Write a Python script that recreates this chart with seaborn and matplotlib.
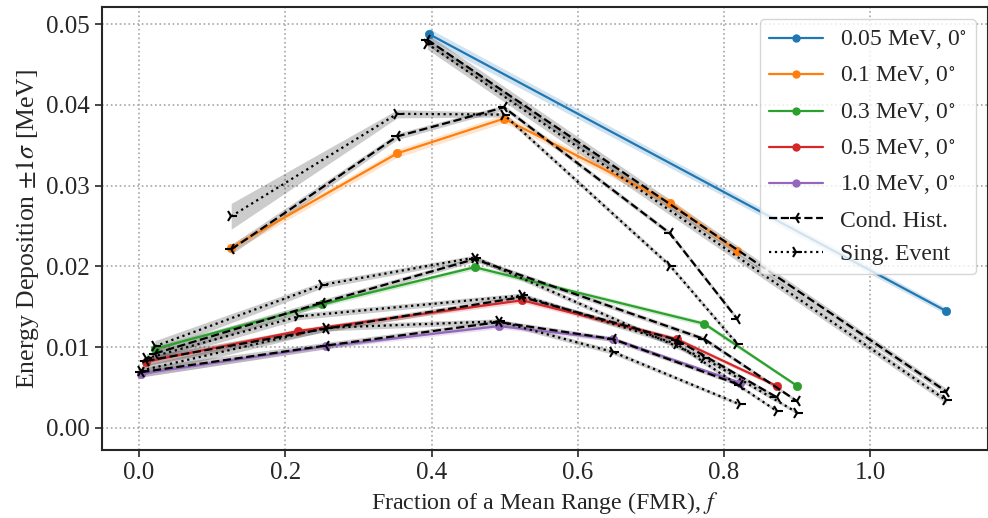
import matplotlib
matplotlib.use("Agg")
import matplotlib.pyplot as plt
from matplotlib.lines import Line2D
import seaborn as sns

# ---- energy deposition vs. fraction of mean range (FMR) ----
# 0.05 MeV
fmr_005 = [0.396, 1.104]
edep_005 = [0.0488, 0.01446]
sd_005 = [0.0007, 0.0004]
fmr_005_ch = [0.394, 1.104]
edep_005_ch = [0.0481, 0.0045]
edep_005_se = [0.0476, 0.0034]
sd_005_ref = [0.0007, 0.0004]

# 0.1 MeV
fmr_01 = [0.126, 0.353, 0.499, 0.726, 0.818]
edep_01 = [0.0223, 0.0340, 0.0383, 0.0279, 0.0219]
sd_01 = [0.0005, 0.0005, 0.0005, 0.0005, 0.0004]
edep_01_ch = [0.0221, 0.0361, 0.0397, 0.0241, 0.0135]
sd_01_ch = [0.0006, 0.0004, 0.0003, 0.0003, 0.0003]
edep_01_se = [0.0262, 0.0389, 0.0388, 0.0201, 0.0104]
sd_01_se = [0.0016, 0.0005, 0.0003, 0.0003, 0.0003]

# 0.3 MeV
fmr_03 = [0.0215, 0.250, 0.459, 0.773, 0.900]
edep_03 = [0.0098, 0.0153, 0.0199, 0.0129, 0.0052]
sd_03 = [0.0004, 0.0003, 0.0003, 0.0003, 0.0002]
edep_03_ch = [0.0092, 0.0155, 0.0209, 0.0110, 0.0033]
edep_03_se = [0.0101, 0.0177, 0.0211, 0.0086, 0.0019]
sd_03_ref = [0.0007, 0.0004, 0.0003, 0.0003, 0.0002]

# 0.5 MeV
fmr_05 = [0.010, 0.218, 0.524, 0.735, 0.872]
edep_05 = [0.0082, 0.0120, 0.0158, 0.0110, 0.0052]
sd_05 = [0.0004, 0.0003, 0.0003, 0.0003, 0.0002]
fmr_05_ch = [0.010, 0.256, 0.524, 0.735, 0.872]
edep_05_ch = [0.0083, 0.0123, 0.0162, 0.0109, 0.0038]
fmr_05_se = [0.010, 0.218, 0.524, 0.735, 0.872]
edep_05_se = [0.0086, 0.0138, 0.0164, 0.0104, 0.0021]
sd_05_ref = [0.0006, 0.0004, 0.0003, 0.0003, 0.0002]

# 1.0 MeV
fmr_10 = [0.003, 0.256, 0.492, 0.648, 0.822]
edep_10 = [0.0067, 0.0101, 0.0126, 0.0110, 0.0056]
sd_10 = [0.0004, 0.0003, 0.0003, 0.0003, 0.0002]
edep_10_ch = [0.0069, 0.0102, 0.0131, 0.0110, 0.0053]
edep_10_se = [0.0071, 0.0124, 0.0132, 0.0094, 0.0029]
sd_10_ref = [0.0006, 0.0004, 0.0003, 0.0003, 0.0002]

energy_labels = ["0.05 MeV, 0$^{\\circ}$", "0.1 MeV, 0$^{\\circ}$", "0.3 MeV, 0$^{\\circ}$",
                 "0.5 MeV, 0$^{\\circ}$", "1.0 MeV, 0$^{\\circ}$"]
ref_labels = ["Cond. Hist.", "Sing. Event"]

sns.set_style("ticks")
plt.rcParams["font.family"] = ["Liberation Serif", "DejaVu Serif"]
plt.rcParams["mathtext.fontset"] = "stix"
plt.rcParams["font.size"] = 18

fig = plt.figure(figsize=(9.88, 5.18), dpi=100)
ax = fig.add_axes([0.103, 0.131, 0.897, 0.855])

palette = sns.color_palette("tab10")

series = [
    (fmr_005, edep_005, sd_005, fmr_005_ch, edep_005_ch, sd_005_ref, fmr_005_ch, edep_005_se, sd_005_ref),
    (fmr_01, edep_01, sd_01, fmr_01, edep_01_ch, sd_01_ch, fmr_01, edep_01_se, sd_01_se),
    (fmr_03, edep_03, sd_03, fmr_03, edep_03_ch, sd_03_ref, fmr_03, edep_03_se, sd_03_ref),
    (fmr_05, edep_05, sd_05, fmr_05_ch, edep_05_ch, sd_05_ref, fmr_05_se, edep_05_se, sd_05_ref),
    (fmr_10, edep_10, sd_10, fmr_10, edep_10_ch, sd_10_ref, fmr_10, edep_10_se, sd_10_ref),
]


def band(x, y, s, color, alpha):
    lo = [a - b for a, b in zip(y, s)]
    hi = [a + b for a, b in zip(y, s)]
    ax.fill_between(x, lo, hi, color=color, alpha=alpha, linewidth=0)


for i, (x, y, s, xc, yc, sc, xs, ys, ss) in enumerate(series):
    col = palette[i]
    band(x, y, s, col, 0.2)
    band(xc, yc, sc, "black", 0.2)
    band(xs, ys, ss, "black", 0.2)
    sns.lineplot(x=x, y=y, ax=ax, color=col, marker="o", markersize=6,
                 markeredgecolor=col, markeredgewidth=0.5, linewidth=1.6,
                 sort=False, legend=False, zorder=3)
    sns.lineplot(x=xc, y=yc, ax=ax, color="black", linestyle="--", marker="3",
                 markersize=9, markeredgecolor="black", markeredgewidth=1.5,
                 linewidth=1.6, sort=False, legend=False, zorder=4)
    sns.lineplot(x=xs, y=ys, ax=ax, color="black", linestyle=":", marker="4",
                 markersize=9, markeredgecolor="black", markeredgewidth=1.5,
                 linewidth=1.6, sort=False, legend=False, zorder=4)

ax.set_xlim(-0.051, 1.161)
ax.set_ylim(-0.00276, 0.0521)
ax.set_xticks([0.0, 0.2, 0.4, 0.6, 0.8, 1.0])
ax.set_yticks([0.00, 0.01, 0.02, 0.03, 0.04, 0.05])
ax.set_xticklabels(["0.0", "0.2", "0.4", "0.6", "0.8", "1.0"])
ax.set_yticklabels(["0.00", "0.01", "0.02", "0.03", "0.04", "0.05"])
ax.tick_params(labelsize=18, length=5, width=1.2, direction="out")
ax.grid(True, linestyle=":", color="0.65", linewidth=1.2)
for sp in ax.spines.values():
    sp.set_linewidth(1.5)

ax.set_xlabel("Fraction of a Mean Range (FMR), $f$", fontsize=17.3)
ax.set_ylabel("Energy Deposition $\\pm 1\\sigma$ [MeV]", fontsize=18.5)

handles = [Line2D([], [], color=palette[i], marker="o", markersize=6, linewidth=1.6,
                  markeredgewidth=0) for i in range(5)]
handles.append(Line2D([], [], color="black", linestyle="--", marker="3", markersize=9,
                      markeredgewidth=1.5, linewidth=1.6))
handles.append(Line2D([], [], color="black", linestyle=":", marker="4", markersize=9,
                      markeredgewidth=1.5, linewidth=1.6))
leg = ax.legend(handles, energy_labels + ref_labels, loc="upper right", fontsize=17,
                frameon=True, fancybox=True, framealpha=0.8, edgecolor="0.8",
                handlelength=2.3, handletextpad=0.7, borderpad=0.4, labelspacing=0.5,
                bbox_to_anchor=(1.0, 1.0), borderaxespad=0.5)

fig.savefig("out.png", dpi=100)
